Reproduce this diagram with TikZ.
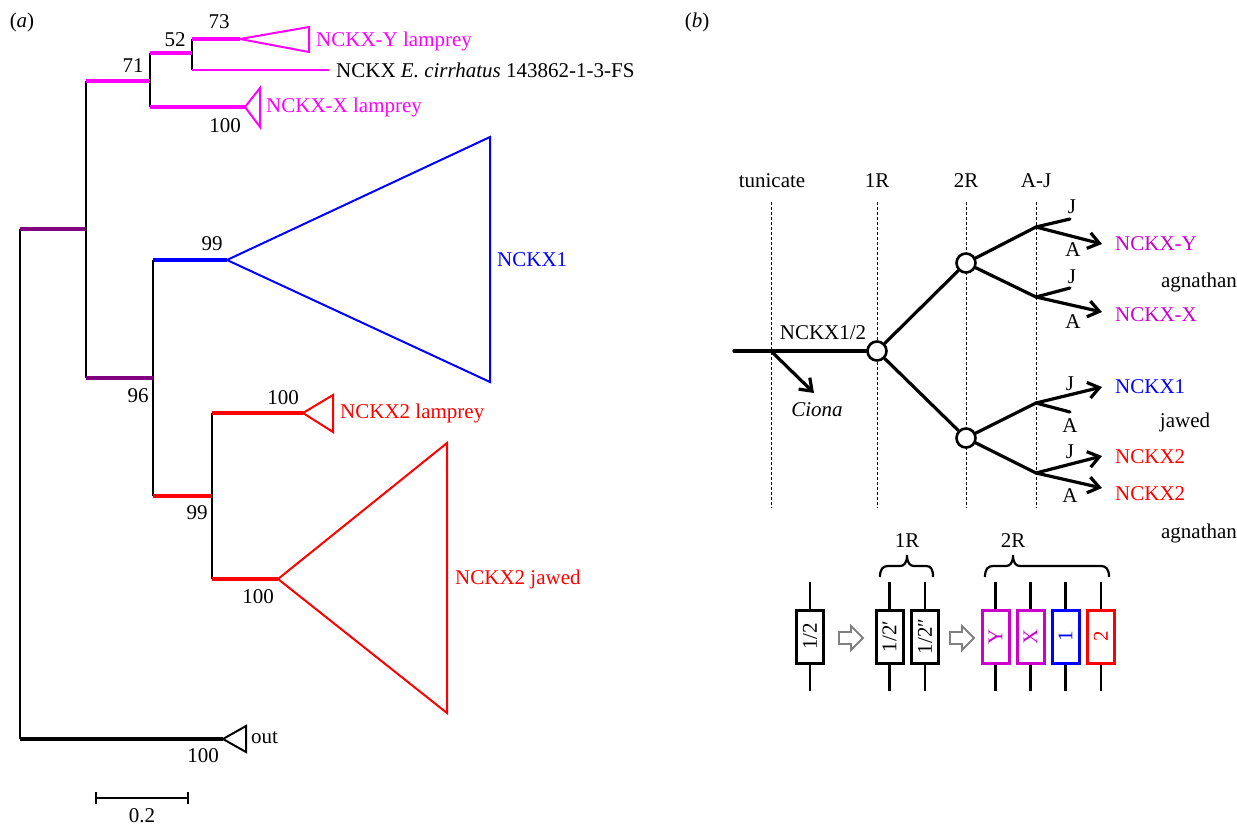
\documentclass[tikz,border=0pt]{standalone}
\usepackage{fontspec}
\usepackage{graphicx}
\setmainfont{Liberation Serif}
\usetikzlibrary{arrows.meta}
\definecolor{mag}{RGB}{255,0,255}
\definecolor{magb}{RGB}{204,0,204}
\definecolor{purp}{RGB}{128,0,128}
\definecolor{blu}{RGB}{0,0,255}
\definecolor{rd}{RGB}{255,0,0}
\begin{document}
\begin{tikzpicture}[x=1pt,y=-1pt,
 every node/.style={font=\fontsize{21}{24}\selectfont, inner sep=0pt},
 thinline/.style={line width=1.8pt},
 br/.style={line width=4.2pt},
 tri/.style={line width=2pt, line join=miter},
 lbl/.style={anchor=west},
 guide/.style={line width=1pt, dash pattern=on 3pt off 2pt},
 bline/.style={line width=3.2pt, line cap=round},
 barrow/.style={line width=3.2pt, line cap=round, -{Straight Barb[length=11pt,width=16pt]}},
 circ/.style={circle, draw, line width=2.6pt, fill=white, minimum size=19pt},
 gene/.style={draw, line width=3pt, minimum width=27pt, minimum height=53pt, inner sep=0pt},
 stem/.style={line width=2.2pt},
 dupl/.style={draw=gray, line width=1.8pt, fill=white, line join=miter},
]
\useasboundingbox (0,0) rectangle (1237,825);

%%%%%%%%%%%%%%%% (a) %%%%%%%%%%%%%%%%
\node (la) at (22,22) {(\textit{a})};

% coordinates
\coordinate (r0) at (20,229);
\coordinate (r1) at (86,229);
\coordinate (rb) at (20,739);
\coordinate (v1t) at (86,81);
\coordinate (v1b) at (86,378);
\coordinate (n71) at (150,81);
\coordinate (v2t) at (150,53);
\coordinate (v2b) at (150,107);
\coordinate (n52) at (192,53);
\coordinate (v3t) at (192,39);
\coordinate (v3b) at (192,70);
\coordinate (y0) at (240,39);
\coordinate (y1) at (309,27);
\coordinate (y2) at (309,52);
\coordinate (ce) at (329,70);
\coordinate (x0) at (245,107);
\coordinate (x1) at (260,88);
\coordinate (x2) at (260,127);
\coordinate (n96) at (153,378);
\coordinate (v4t) at (153,260);
\coordinate (v4b) at (153,496);
\coordinate (b0) at (227,260);
\coordinate (b1) at (490,137);
\coordinate (b2) at (490,382);
\coordinate (n99) at (212,496);
\coordinate (v5t) at (212,413);
\coordinate (v5b) at (212,579);
\coordinate (l0) at (303,413);
\coordinate (l1) at (333,395);
\coordinate (l2) at (333,432);
\coordinate (j0) at (278,579);
\coordinate (j1) at (447,443);
\coordinate (j2) at (447,713);
\coordinate (o0) at (223,739);
\coordinate (o1) at (246,726);
\coordinate (o2) at (246,752);

% vertical connectors
\draw[thinline] (r0) -- (rb);
\draw[thinline] (v1t) -- (v1b);
\draw[thinline] (v2t) -- (v2b);
\draw[thinline] (v3t) -- (v3b);
\draw[thinline] (v4t) -- (v4b);
\draw[thinline] (v5t) -- (v5b);

% branches
\draw[br, purp] (r0) -- (r1);
\draw[br, purp] (v1b) -- (n96);
\draw[br, mag] (v1t) -- (n71);
\draw[br, mag] (v2t) -- (n52);
\draw[br, mag] (v3t) -- (y0);
\draw[line width=2.4pt, mag] (v3b) -- (ce);
\draw[br, mag] (v2b) -- (x0);
\draw[br, blu] (v4t) -- (b0);
\draw[br, rd] (v4b) -- (n99);
\draw[br, rd] (v5t) -- (l0);
\draw[br, rd] (v5b) -- (j0);
\draw[br] (rb) -- (o0);

% triangles
\draw[tri, mag] (y0) -- (y1) -- (y2) -- cycle;
\draw[tri, mag] (x0) -- (x1) -- (x2) -- cycle;
\draw[tri, blu] (b0) -- (b1) -- (b2) -- cycle;
\draw[tri, rd] (l0) -- (l1) -- (l2) -- cycle;
\draw[tri, rd] (j0) -- (j1) -- (j2) -- cycle;
\draw[tri] (o0) -- (o1) -- (o2) -- cycle;

% support values
\node (s73) at (219,22) {73};
\node (s52) at (175,40) {52};
\node (s71) at (133,66) {71};
\node (s100x) at (225,126) {100};
\node (s99b) at (212,244) {99};
\node (s96) at (138,396) {96};
\node (s99r) at (197,513) {99};
\node (s100l) at (283,398) {100};
\node (s100j) at (258,597) {100};
\node (s100o) at (203,756) {100};

% taxon labels
\node[lbl, text=mag] (ty) at (316,41) {NCKX-Y lamprey};
\node[lbl] (tc) at (336,70) {NCKX \textit{E. cirrhatus} 143862-1-3-FS};
\node[lbl, text=mag] (tx) at (266,107) {NCKX-X lamprey};
\node[lbl, text=blu] (t1) at (497,260) {NCKX1};
\node[lbl, text=rd] (t2l) at (340,413) {NCKX2 lamprey};
\node[lbl, text=rd] (t2j) at (455,579) {NCKX2 jawed};
\node[lbl] (tout) at (251,738) {out};

% scale bar
\coordinate (sb0) at (96,798);
\coordinate (sb1) at (188,798);
\draw[thinline] (sb0) -- (sb1);
\draw[thinline] ([yshift=-6pt]sb0) -- ([yshift=6pt]sb0);
\draw[thinline] ([yshift=-6pt]sb1) -- ([yshift=6pt]sb1);
\node (sbl) at (142,816) {0.2};

%%%%%%%%%%%%%%%% (b) %%%%%%%%%%%%%%%%
\node (lb) at (697,22) {(\textit{b})};

\node (htun) at (772,181) {tunicate};
\node (h1r) at (877,181) {1R};
\node (h2r) at (966,181) {2R};
\node (haj) at (1036,181) {A-J};

\foreach \xx/\nm in {771/g0,877/g1,966/g2,1036/g3}{
  \coordinate (\nm t) at (\xx,202);
  \coordinate (\nm b) at (\xx,508);
  \draw[guide] (\nm t) -- (\nm b);
}

\coordinate (t0) at (734,351);
\coordinate (tj) at (771,351);
\coordinate (ct) at (814,393);
\node[circ] (c1) at (877,351) {};
\node[circ] (c2) at (966,263) {};
\node[circ] (c3) at (966,438) {};
\coordinate (p1) at (1036,227);
\coordinate (p2) at (1036,297);
\coordinate (p3) at (1036,403);
\coordinate (p4) at (1036,473);
\coordinate (q1j) at (1070,219);
\coordinate (q1a) at (1102,244);
\coordinate (q2j) at (1070,288);
\coordinate (q2a) at (1102,312);
\coordinate (q3j) at (1102,387);
\coordinate (q3a) at (1070,412);
\coordinate (q4j) at (1102,456);
\coordinate (q4a) at (1102,488);

\draw[bline] (t0) -- (c1);
\draw[barrow] (tj) -- (ct);
\draw[bline] (c1) -- (c2);
\draw[bline] (c1) -- (c3);
\draw[bline] (c2) -- (p1);
\draw[bline] (c2) -- (p2);
\draw[bline] (c3) -- (p3);
\draw[bline] (c3) -- (p4);
\draw[bline] (p1) -- (q1j);
\draw[barrow] (p1) -- (q1a);
\draw[bline] (p2) -- (q2j);
\draw[barrow] (p2) -- (q2a);
\draw[barrow] (p3) -- (q3j);
\draw[bline] (p3) -- (q3a);
\draw[barrow] (p4) -- (q4j);
\draw[barrow] (p4) -- (q4a);

\node (n12) at (823,333) {NCKX1/2};
\node (cio) at (817,410) {\textit{Ciona}};
\node (J1) at (1072,207) {J};
\node (A1) at (1073,250) {A};
\node (J2) at (1072,277) {J};
\node (A2) at (1073,322) {A};
\node (J3) at (1070,384) {J};
\node (A3) at (1070,426) {A};
\node (J4) at (1070,452) {J};
\node (A4) at (1070,496) {A};

\node[lbl, text=magb] (oy) at (1115,244) {NCKX-Y};
\node[lbl, text=magb] (ox) at (1115,315) {NCKX-X};
\node[lbl, text=blu] (o1) at (1115,387) {NCKX1};
\node[lbl, text=rd] (o2) at (1115,457) {NCKX2};
\node[lbl, text=rd] (o3) at (1115,494) {NCKX2};
\node (ag1) at (1199,282) {agnathan};
\node (jaw) at (1185,422) {jawed};
\node (ag2) at (1199,533) {agnathan};

% gene boxes
\node[gene] (k0) at (810,636.5) {\rotatebox{90}{1/2}};
\node[gene] (k1) at (889.5,636.5) {\rotatebox{90}{1/2′}};
\node[gene] (k2) at (925,636.5) {\rotatebox{90}{1/2″}};
\node[gene, draw=magb, text=magb] (k3) at (995.5,636.5) {\rotatebox{90}{Y}};
\node[gene, draw=magb, text=magb] (k4) at (1030.5,636.5) {\rotatebox{90}{X}};
\node[gene, draw=blu, text=blu] (k5) at (1065.5,636.5) {\rotatebox{90}{1}};
\node[gene, draw=rd, text=rd] (k6) at (1101,636.5) {\rotatebox{90}{2}};
\foreach \k in {k0,k1,k2,k3,k4,k5,k6}{
  \draw[stem] (\k.north) -- ++(0,-27);
  \draw[stem] (\k.south) -- ++(0,26);
}

% duplication arrows
\draw[dupl] (839,632) -- (851,632) -- (851,626) -- (863,638) -- (851,650) -- (851,644) -- (839,644) -- cycle;
\draw[dupl] (950,632) -- (962,632) -- (962,626) -- (974,638) -- (962,650) -- (962,644) -- (950,644) -- cycle;

% braces
\draw[stem] (880,577) .. controls (880,569) and (883,566) .. (888,566) -- (900,566)
  .. controls (904,566) and (907,563) .. (907,555)
  .. controls (907,563) and (910,566) .. (914,566) -- (926,566)
  .. controls (931,566) and (933,569) .. (933,577);
\draw[stem] (985,577) .. controls (985,569) and (988,566) .. (993,566) -- (1006,566)
  .. controls (1010,566) and (1013,563) .. (1013,555)
  .. controls (1013,563) and (1016,566) .. (1020,566) -- (1101,566)
  .. controls (1106,566) and (1109,569) .. (1109,577);
\node (bl1) at (907,541) {1R};
\node (bl2) at (1013,541) {2R};
\end{tikzpicture}
\end{document}
